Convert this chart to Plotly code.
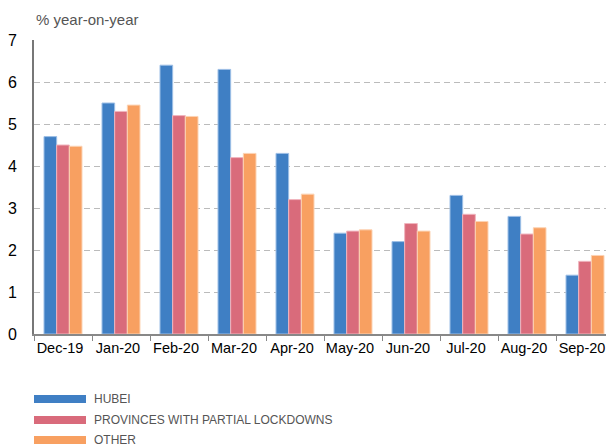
import plotly.graph_objects as go

months = ["Dec-19", "Jan-20", "Feb-20", "Mar-20", "Apr-20",
          "May-20", "Jun-20", "Jul-20", "Aug-20", "Sep-20"]
hubei = [4.7, 5.5, 6.4, 6.3, 4.3, 2.4, 2.2, 3.3, 2.8, 1.4]
partial = [4.5, 5.3, 5.2, 4.2, 3.2, 2.45, 2.63, 2.85, 2.38, 1.73]
other = [4.47, 5.45, 5.18, 4.3, 3.33, 2.48, 2.45, 2.68, 2.53, 1.87]
y_ticks = [0, 1, 2, 3, 4, 5, 6, 7]

series = [
    ("HUBEI", hubei, "#3F7FC4", "#9DBFE6"),
    ("PROVINCES WITH PARTIAL LOCKDOWNS", partial, "#D96B7B", "#F0B5BE"),
    ("OTHER", other, "#F8A061", "#FCD3B4"),
]

# page has an 8px body margin, so the figure is a bit smaller than the window
W, H = 606, 439
L, T, B = 26, 32, 113
PW, PH = W - L, H - T - B

fig = go.Figure()
for name, vals, col, edge in series:
    fig.add_trace(go.Bar(
        x=months, y=vals, name=name, marker_color=col,
        marker_line=dict(color=edge, width=1), showlegend=False,
    ))

# legend drawn by hand to get the wide flat swatches
leg_y = [391, 412, 432]
for (name, vals, col, edge), yy in zip(series, leg_y):
    yc = (H - B - yy) / PH
    fig.add_shape(type="rect", xref="paper", yref="paper",
                  x0=0, x1=52 / PW, y0=yc - 4 / PH, y1=yc + 4 / PH,
                  fillcolor=col, line_width=0)
    fig.add_annotation(text=name, xref="paper", yref="paper",
                       x=58 / PW, y=yc, xanchor="left", yanchor="middle",
                       showarrow=False,
                       font=dict(family="Liberation Sans Narrow, Arial Narrow, Liberation Sans, sans-serif",
                                 size=12, color="#555555"))

fig.add_annotation(text="% year-on-year", xref="paper", yref="paper",
                   x=0, y=(H - B - 12) / PH, xanchor="left", yanchor="middle", showarrow=False,
                   font=dict(family="Liberation Sans, Arial, sans-serif", size=15, color="#555555"))

fig.update_layout(
    width=W, height=H,
    margin=dict(l=L, r=0, t=T, b=B, autoexpand=False),
    plot_bgcolor="white", paper_bgcolor="white",
    barmode="group", bargap=0.345, bargroupgap=0,
    font=dict(family="Liberation Sans, Arial, sans-serif", color="#000000"),
)
fig.update_xaxes(
    showline=True, linecolor="#888888", linewidth=1.5,
    ticks="outside", tickson="boundaries", ticklen=5, tickcolor="#888888",
    tickfont=dict(size=14.5), tickangle=0, ticklabelshift=-3,
    showgrid=False, automargin=False,
)
fig.update_yaxes(
    range=[0, 7], tickvals=y_ticks, showline=True, linecolor="#777777", linewidth=2,
    showgrid=True, gridcolor="#BBBBBB", griddash="6px,4px", gridwidth=1,
    zeroline=False, tickfont=dict(size=16), ticks="", ticklabelstandoff=12,
    automargin=False,
)

fig.write_html("out.html")
